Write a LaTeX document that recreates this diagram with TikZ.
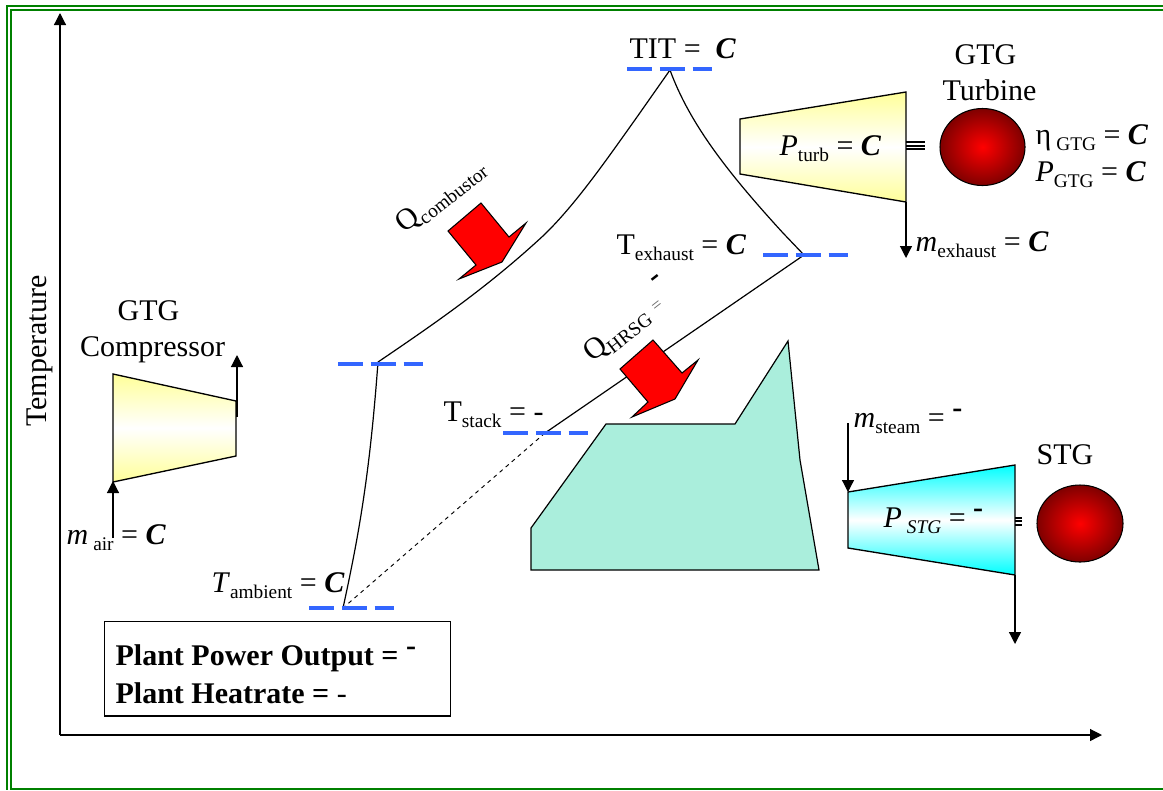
\documentclass[tikz,border=0pt]{standalone}
\usepackage{fontspec}
\setmainfont{Liberation Serif}
\usepackage{xcolor}
\usetikzlibrary{arrows.meta}
\definecolor{framegreen}{HTML}{008000}
\definecolor{levelblue}{HTML}{3366FF}
\definecolor{hrsggreen}{HTML}{AAEEDC}
\definecolor{paleyellow}{HTML}{FFFF99}
\newcommand{\subtxt}[1]{\raisebox{-4.5pt}{\fontsize{14.5}{17}\selectfont #1}}
\newcommand{\bigC}{\textbf{\textit{C}}}
\newcommand{\hidash}{\raisebox{7pt}{\textbf{-}}}

\begin{document}
\begin{tikzpicture}[x=.75pt,y=-.75pt,>={Triangle[length=9pt,width=9pt]},line width=.9pt,
  lbl/.style={anchor=base west,inner sep=0pt,font=\fontsize{22.5}{27}\selectfont},
  lblc/.style={lbl,anchor=base},
  levelline/.style={draw=levelblue,line width=2.4pt,dash pattern=on 18.75pt off 5.9pt},
  frameline/.style={draw=framegreen,line width=1.1pt},
  heatarrow/.style={draw=black,fill=red,line width=.8pt,line join=miter},
  yellowblade/.style={draw=black,line width=1pt,top color=paleyellow,bottom color=paleyellow,middle color=white},
  cyanblade/.style={draw=black,line width=1pt,top color=cyan,bottom color=cyan,middle color=white},
  generator/.style={draw=black,line width=.8pt,inner color=red,outer color=red!50!black}]
  \useasboundingbox[fill=white] (0,0) rectangle (1163,790);
  % Double border, open on the right.
  \draw[frameline] (1163,6)--(7,6)--(7,790);
  \draw[frameline] (1163,10)--(11,10)--(11,789)--(1163,789);
  % Axes.
  \coordinate (origin) at (60,735);
  \coordinate (ytop) at (60,13);
  \coordinate (xend) at (1102,735);
  \draw[->] (origin)--(ytop);
  \draw[->] (origin)--(xend);
  \node[lblc,rotate=90] (templabel) at (46,351) {Temperature};
  % HRSG area.
  \draw[fill=hrsggreen] (531,570)--(531,528)--(606,424)--(735,424)--(788,341)--(800,460)--(819,570)--cycle;
  % Cycle points and process lines.
  \coordinate (ambient) at (343,608);
  \coordinate (compout) at (378,362);
  \coordinate (tit) at (670,70);
  \coordinate (exhaust) at (804,255);
  \coordinate (stack) at (545,433);
  \draw (ambient) .. controls (360,530) and (370,470) .. (compout);
  \draw (compout) .. controls (440,320) and (490,285) .. (544,235) .. controls (575,205) and (605,162) .. (637,117)--(tit);
  \draw (tit) .. controls (690,125) and (730,175) .. (783,233)--(exhaust);
  \draw (exhaust)--(stack);
  \draw[dashed,line width=.7pt] (stack)--(ambient);
  \foreach \xpos/\ypos in {627/69,763/255,338/364,503/433,309/608}
    \draw[levelline] (\xpos,\ypos)--++(85,0);
  % Heat arrows.
  \draw[heatarrow] (481,203)--(509,237)--(526,223)--(502,262)--(459,279)--(476,265)--(448,231)--cycle;
  \draw[heatarrow] (653,340)--(682,373)--(698,360)--(675,399)--(632,417)--(648,402)--(620,369)--cycle;
  % Compressor.
  \draw[yellowblade] (113,374)--(236,401)--(236,456)--(113,482)--cycle;
  \coordinate (airin) at (113,538);
  \coordinate (airend) at (113,481);
  \coordinate (compstart) at (237,417);
  \coordinate (compend) at (237,355);
  \draw[->] (airin)--(airend);
  \draw[->] (compstart)--(compend);
  % Gas turbine and generator.
  \draw[yellowblade] (740,119)--(906,92)--(906,202)--(740,174)--cycle;
  \coordinate (gasout) at (906,202);
  \coordinate (gasend) at (906,258);
  \draw[->] (gasout)--(gasend);
  \foreach \ypos in {142,146,149}
    \draw (906,\ypos)--(925,\ypos);
  \draw[generator] (982.5,147) ellipse (42.5 and 38.5);
  % Steam turbine and generator.
  \draw[cyanblade] (848,492)--(1015,465)--(1015,575)--(848,548)--cycle;
  \coordinate (steamin) at (848,423);
  \coordinate (steamend) at (848,492);
  \coordinate (steamout) at (1015,575);
  \coordinate (steamdown) at (1015,644);
  \draw[->] (steamin)--(steamend);
  \draw[->] (steamout)--(steamdown);
  \foreach \ypos in {518,521,525}
    \draw (1015,\ypos)--(1022,\ypos);
  \draw[generator] (1080,523.5) ellipse (43 and 38.5);
  % Labels.
  \node[lbl] (titlabel) at (629,58) {TIT = ~\bigC};
  \node[lblc] (gtgturb) at (985.5,64) {GTG};
  \node[lblc] (turblabel) at (989.5,100) {Turbine};
  \node[lbl] (pturb) at (779,155) {\textit{P}\subtxt{turb} = \bigC};
  \node[lbl] (etagtg) at (1035,144) {η\,\subtxt{GTG} = \bigC};
  \node[lbl] (pgtg) at (1035,181) {\textit{P}\subtxt{GTG} = \bigC};
  \node[lbl] (mexhaust) at (915,251) {\textit{m}\subtxt{exhaust} = \bigC};
  \node[lbl] (texhaust) at (616,254) {T\subtxt{exhaust} = \bigC};
  \node[lbl,rotate=38] (qcomb) at (404,234) {Q\subtxt{combustor}};
  \node[lbl,rotate=38] (qhrsg) at (592,363) {Q\subtxt{HRSG} {\fontsize{13}{15}\selectfont\color{black!60}=}};
  \node[lbl,rotate=38] (qdash) at (655,287) {\textbf{-}};
  \node[lbl] (tstack) at (443,421) {T\subtxt{stack} = -};
  \node[lblc] (gtgcomp) at (148.5,320) {GTG};
  \node[lblc] (complabel) at (152.5,356) {Compressor};
  \node[lbl] (mair) at (66,544) {\textit{m}\,\subtxt{air} = \bigC};
  \node[lbl] (tambient) at (211,592) {\textit{T}\subtxt{ambient} = \bigC};
  \node[lbl] (msteam) at (853,427) {\textit{m}\subtxt{steam} = \hidash};
  \node[lbl] (pstg) at (883,527) {\textit{P}\,\subtxt{\textit{STG}} = \hidash};
  \node[lblc] (stglabel) at (1065,464) {STG};
  % Result box.
  \node[draw,line width=1pt,minimum width=259.5pt,minimum height=71pt,anchor=north west,inner sep=0pt] (resultbox) at (104,620.5) {};
  \node[lbl,font=\fontsize{22.5}{27}\selectfont\bfseries] (powerlabel) at (115,665) {Plant Power Output = \hidash};
  \node[lbl,font=\fontsize{22.5}{27}\selectfont\bfseries] (heatlabel) at (115,703) {Plant Heatrate = {\mdseries -}};
\end{tikzpicture}
\end{document}
